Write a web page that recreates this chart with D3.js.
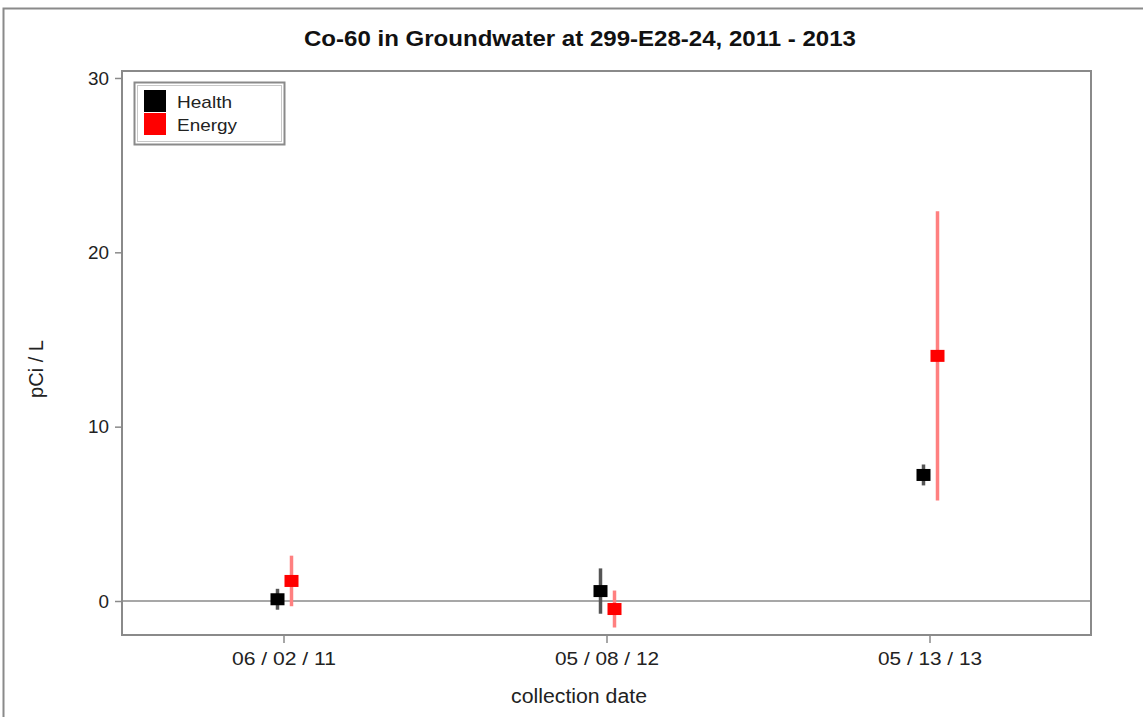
<!DOCTYPE html>
<html><head><meta charset="utf-8">
<script src="https://cdn.jsdelivr.net/npm/d3@7/dist/d3.min.js"></script>
<style>body{margin:0;background:#fff}svg{display:block}text{font-family:"Liberation Sans",Arial,sans-serif}</style>
</head><body>
<script>
const categories = ["06 / 02 / 11", "05 / 08 / 12", "05 / 13 / 13"];
const seriesNames = ["Health", "Energy"];
const seriesColors = ["#000000", "#ff0000"];
const errColors = ["#555555", "#ff8080"];
const healthValues = [0.1, 0.57, 7.23];
const healthErrors = [0.6, 1.3, 0.6];
const energyValues = [1.15, -0.46, 14.06];
const energyErrors = [1.45, 1.06, 8.3];
const yTicks = [0, 10, 20, 30];

const W = 1143, H = 717;
const m = {left: 122, right: 1091, top: 71, bottom: 635};
const svg = d3.select("body").append("svg").attr("width", W).attr("height", H);

// outer frame
svg.append("rect").attr("x", 3.5).attr("y", 8.5).attr("width", W + 10).attr("height", H + 10)
  .attr("fill", "none").attr("stroke", "#8a8a8a").attr("stroke-width", 2);

const x = d3.scalePoint().domain(categories).range([m.left, m.right]).padding(0.5);
const y = d3.scaleLinear().domain([-1.95, 30.4]).range([m.bottom, m.top]);

// plot frame
svg.append("rect").attr("x", m.left).attr("y", m.top).attr("width", m.right - m.left).attr("height", m.bottom - m.top)
  .attr("fill", "none").attr("stroke", "#8a8a8a").attr("stroke-width", 2);

// zero line
svg.append("line").attr("x1", m.left).attr("x2", m.right).attr("y1", y(0)).attr("y2", y(0))
  .attr("stroke", "#8a8a8a").attr("stroke-width", 1.5);

// axes
const yAxis = svg.append("g").attr("transform", `translate(${m.left},0)`)
  .call(d3.axisLeft(y).tickValues(yTicks).tickSize(7).tickPadding(6));
const xAxis = svg.append("g").attr("transform", `translate(0,${m.bottom})`)
  .call(d3.axisBottom(x).tickSize(8).tickPadding(9));
[yAxis, xAxis].forEach(g => {
  g.select(".domain").remove();
  g.selectAll(".tick line").attr("stroke", "#8a8a8a").attr("stroke-width", 1.5);
  g.selectAll(".tick text").attr("fill", "#222").style("font-size", "19px")
    .style("font-family", "'Liberation Sans',Arial,sans-serif").attr("lengthAdjust", "spacingAndGlyphs");
});
yAxis.selectAll(".tick text").attr("textLength", d => String(d).length * 10.5);
xAxis.selectAll(".tick text").attr("textLength", 104);

// series
const series = [
  {name: seriesNames[0], values: healthValues, errors: healthErrors, off: -6, color: seriesColors[0], ec: errColors[0]},
  {name: seriesNames[1], values: energyValues, errors: energyErrors, off: 8, color: seriesColors[1], ec: errColors[1]}
];
series.forEach(s => {
  const g = svg.append("g");
  const data = categories.map((c, i) => ({c, v: s.values[i], e: s.errors[i]}));
  g.selectAll("line").data(data).enter().append("line")
    .attr("x1", d => x(d.c) + s.off).attr("x2", d => x(d.c) + s.off)
    .attr("y1", d => y(d.v - d.e)).attr("y2", d => y(d.v + d.e))
    .attr("stroke", s.ec).attr("stroke-width", 3.5);
  g.selectAll("rect").data(data).enter().append("rect")
    .attr("x", d => x(d.c) + s.off - 7).attr("y", d => y(d.v) - 6)
    .attr("width", 14).attr("height", 12).attr("fill", s.color);
});

// legend
const lg = svg.append("g");
lg.append("rect").attr("x", 134.5).attr("y", 82.5).attr("width", 150).attr("height", 62)
  .attr("fill", "#fff").attr("stroke", "#8a8a8a").attr("stroke-width", 2);
lg.append("rect").attr("x", 137.5).attr("y", 85.5).attr("width", 144).attr("height", 56)
  .attr("fill", "none").attr("stroke", "#c8c8c8").attr("stroke-width", 1);
const legendLens = [55, 60];
series.forEach((s, i) => {
  lg.append("rect").attr("x", 144).attr("y", 90 + i * 23).attr("width", 22).attr("height", 22).attr("fill", s.color);
  lg.append("text").attr("x", 177).attr("y", 108 + i * 23).text(s.name)
    .style("font-size", "17px").attr("fill", "#222")
    .attr("textLength", legendLens[i]).attr("lengthAdjust", "spacingAndGlyphs");
});

// titles
svg.append("text").attr("x", 580).attr("y", 46).attr("text-anchor", "middle")
  .style("font-size", "22px").style("font-weight", "bold").attr("fill", "#111")
  .attr("textLength", 552).attr("lengthAdjust", "spacingAndGlyphs")
  .text("Co-60 in Groundwater at 299-E28-24, 2011 - 2013");
svg.append("text").attr("x", 579).attr("y", 703).attr("text-anchor", "middle")
  .style("font-size", "20px").attr("fill", "#222")
  .attr("textLength", 136).attr("lengthAdjust", "spacingAndGlyphs").text("collection date");
svg.append("text").attr("transform", "translate(43,369) rotate(-90)").attr("text-anchor", "middle")
  .style("font-size", "20px").attr("fill", "#222")
  .attr("textLength", 58).attr("lengthAdjust", "spacingAndGlyphs").text("pCi / L");
</script>
</body></html>
